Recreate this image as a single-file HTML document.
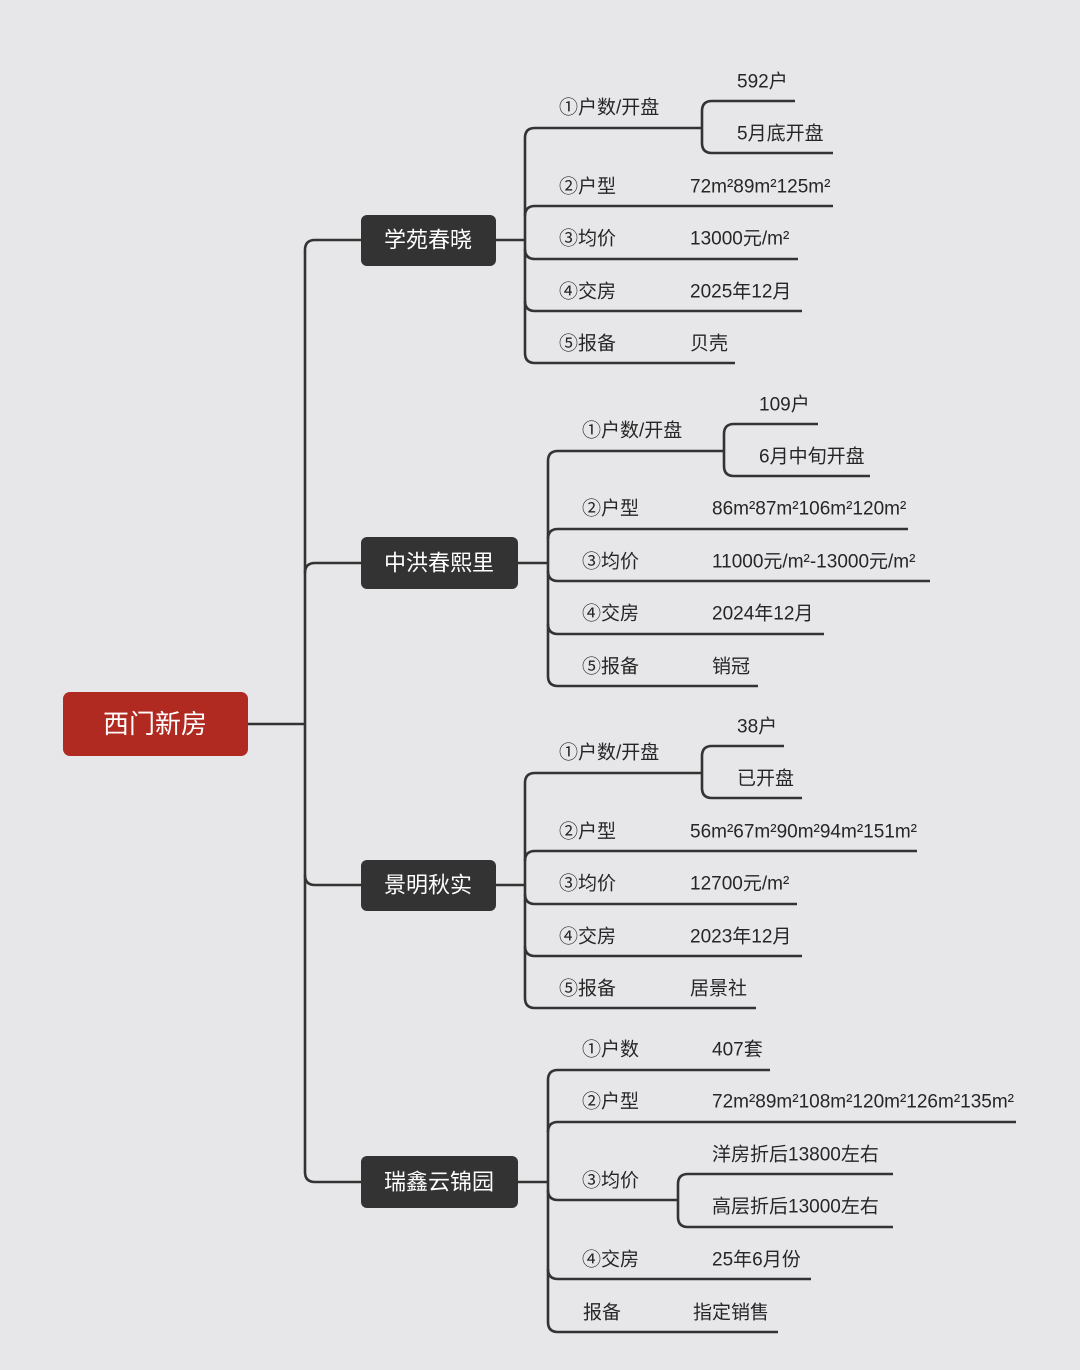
<!DOCTYPE html>
<html><head><meta charset="utf-8"><style>
html,body{margin:0;padding:0;background:#e7e7e9;}
svg{display:block}
text{font-family:"Liberation Sans","Noto Sans CJK SC",sans-serif;fill:#262626;font-size:19px;dominant-baseline:central}
.w{fill:#fff;font-size:22px;text-anchor:middle}
</style></head><body>
<svg width="1080" height="1370" viewBox="0 0 1080 1370" xmlns="http://www.w3.org/2000/svg">
<rect width="1080" height="1370" fill="#e7e7e9"/>
<g fill="none" stroke="#333" stroke-width="2.6">
<!-- trunk -->
<path d="M248,724 H305"/>
<path d="M305,250 V1172"/>
<path d="M305,250 Q305,240 315,240 H361"/>
<path d="M305,573 Q305,563 315,563 H361"/>
<path d="M305,875 Q305,885 315,885 H361"/>
<path d="M305,1172 Q305,1182 315,1182 H361"/>
<!-- group1 -->
<path d="M496,240 H525"/>
<path d="M525,138 V353"/>
<path d="M525,138 Q525,128 535,128 H702"/>
<path d="M702,111 V143"/>
<path d="M702,111 Q702,101 712,101 H795"/>
<path d="M702,143 Q702,153 712,153 H833"/>
<path d="M525,216 Q525,206 535,206 H833"/>
<path d="M525,249 Q525,259 535,259 H798"/>
<path d="M525,301 Q525,311 535,311 H802"/>
<path d="M525,353 Q525,363 535,363 H735"/>
<!-- group2 -->
<path d="M518,563 H548"/>
<path d="M548,461 V676"/>
<path d="M548,461 Q548,451 558,451 H724"/>
<path d="M724,434 V466"/>
<path d="M724,434 Q724,424 734,424 H818"/>
<path d="M724,466 Q724,476 734,476 H870"/>
<path d="M548,539 Q548,529 558,529 H908"/>
<path d="M548,571 Q548,581 558,581 H930"/>
<path d="M548,624 Q548,634 558,634 H824"/>
<path d="M548,676 Q548,686 558,686 H758"/>
<!-- group3 -->
<path d="M496,885 H525"/>
<path d="M525,783 V998"/>
<path d="M525,783 Q525,773 535,773 H702"/>
<path d="M702,756 V788"/>
<path d="M702,756 Q702,746 712,746 H784"/>
<path d="M702,788 Q702,798 712,798 H802"/>
<path d="M525,861 Q525,851 535,851 H917"/>
<path d="M525,894 Q525,904 535,904 H797"/>
<path d="M525,946 Q525,956 535,956 H802"/>
<path d="M525,998 Q525,1008 535,1008 H756"/>
<!-- group4 -->
<path d="M518,1182 H548"/>
<path d="M548,1080 V1322"/>
<path d="M548,1080 Q548,1070 558,1070 H770"/>
<path d="M548,1132 Q548,1122 558,1122 H1016"/>
<path d="M548,1190 Q548,1200 558,1200 H678"/>
<path d="M678,1184 V1217"/>
<path d="M678,1184 Q678,1174 688,1174 H893"/>
<path d="M678,1217 Q678,1227 688,1227 H893"/>
<path d="M548,1269 Q548,1279 558,1279 H811"/>
<path d="M548,1322 Q548,1332 558,1332 H778"/>
</g>
<!-- boxes -->
<rect x="63" y="692" width="185" height="64" rx="7" fill="#b02a22"/>
<text x="155" y="724" class="w" style="font-size:26px">西门新房</text>
<rect x="361" y="215" width="135" height="51" rx="6" fill="#333"/>
<text x="428" y="240" class="w">学苑春晓</text>
<rect x="361" y="537" width="157" height="52" rx="6" fill="#333"/>
<text x="439" y="563" class="w">中洪春熙里</text>
<rect x="361" y="860" width="135" height="51" rx="6" fill="#333"/>
<text x="428" y="885" class="w">景明秋实</text>
<rect x="361" y="1156" width="157" height="52" rx="6" fill="#333"/>
<text x="439" y="1182" class="w">瑞鑫云锦园</text>
<!-- g1 text -->
<text x="559" y="108">①户数/开盘</text>
<text x="737" y="82">592户</text>
<text x="737" y="134">5月底开盘</text>
<text x="559" y="187">②户型</text><text x="690" y="187">72m²89m²125m²</text>
<text x="559" y="239">③均价</text><text x="690" y="239">13000元/m²</text>
<text x="559" y="292">④交房</text><text x="690" y="292">2025年12月</text>
<text x="559" y="344">⑤报备</text><text x="690" y="344">贝壳</text>
<!-- g2 -->
<text x="582" y="431">①户数/开盘</text>
<text x="759" y="405">109户</text>
<text x="759" y="457">6月中旬开盘</text>
<text x="582" y="509">②户型</text><text x="712" y="509">86m²87m²106m²120m²</text>
<text x="582" y="562">③均价</text><text x="712" y="562">11000元/m²-13000元/m²</text>
<text x="582" y="614">④交房</text><text x="712" y="614">2024年12月</text>
<text x="582" y="667">⑤报备</text><text x="712" y="667">销冠</text>
<!-- g3 -->
<text x="559" y="753">①户数/开盘</text>
<text x="737" y="727">38户</text>
<text x="737" y="779">已开盘</text>
<text x="559" y="832">②户型</text><text x="690" y="832">56m²67m²90m²94m²151m²</text>
<text x="559" y="884">③均价</text><text x="690" y="884">12700元/m²</text>
<text x="559" y="937">④交房</text><text x="690" y="937">2023年12月</text>
<text x="559" y="989">⑤报备</text><text x="690" y="989">居景社</text>
<!-- g4 -->
<text x="582" y="1050">①户数</text><text x="712" y="1050">407套</text>
<text x="582" y="1102">②户型</text><text x="712" y="1102">72m²89m²108m²120m²126m²135m²</text>
<text x="582" y="1181">③均价</text>
<text x="712" y="1155">洋房折后13800左右</text>
<text x="712" y="1207">高层折后13000左右</text>
<text x="582" y="1260">④交房</text><text x="712" y="1260">25年6月份</text>
<text x="583" y="1313">报备</text><text x="693" y="1313">指定销售</text>
</svg>
</body></html>
